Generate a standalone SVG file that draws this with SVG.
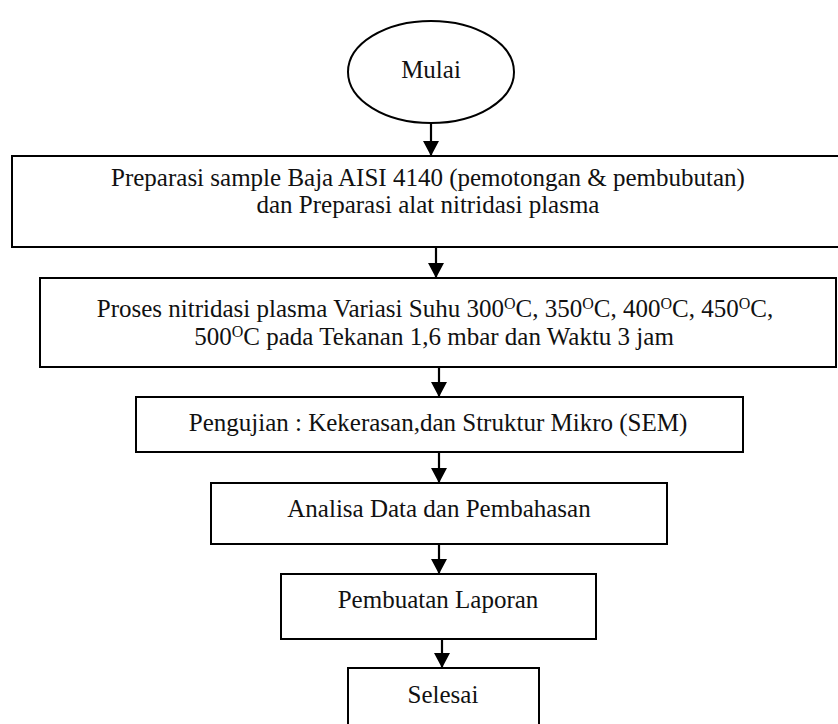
<svg xmlns="http://www.w3.org/2000/svg" width="838" height="724" viewBox="0 0 838 724">
<style>
.box{fill:#fff;stroke:#000;stroke-width:2}
.t{font-family:"Liberation Serif","Times New Roman",serif;font-size:25px;fill:#111;text-anchor:middle}
.sup{font-size:16px}
.c{stroke:#000;stroke-width:2.2;fill:none}
</style>
<defs>
<marker id="ah" markerWidth="16" markerHeight="16" viewBox="0 0 16 16" refX="15" refY="8" orient="auto" markerUnits="userSpaceOnUse">
<path d="M0,0 L15,8 L0,16 Z" fill="#000"/>
</marker>
</defs>
<rect width="838" height="724" fill="#fff"/>
<g id="connectors">
<line class="c" x1="431" y1="123" x2="431" y2="156" marker-end="url(#ah)"/>
<line class="c" x1="436" y1="248" x2="436" y2="278" marker-end="url(#ah)"/>
<line class="c" x1="439" y1="368" x2="439" y2="397" marker-end="url(#ah)"/>
<line class="c" x1="439" y1="453" x2="439" y2="483" marker-end="url(#ah)"/>
<line class="c" x1="439" y1="545" x2="439" y2="574" marker-end="url(#ah)"/>
<line class="c" x1="442" y1="639" x2="442" y2="668" marker-end="url(#ah)"/>
</g>
<g id="mulai">
<ellipse class="box" cx="431" cy="72" rx="83" ry="51"/>
<text class="t" x="431" y="78">Mulai</text>
</g>
<g id="preparasi">
<rect class="box" x="12" y="156" width="840" height="91"/>
<text class="t" x="428" y="186">Preparasi sample Baja AISI 4140 (pemotongan &amp; pembubutan)</text>
<text class="t" x="428" y="213">dan Preparasi alat nitridasi plasma</text>
</g>
<g id="proses">
<rect class="box" x="40" y="278" width="796" height="89"/>
<text class="t" x="435" y="317">Proses nitridasi plasma Variasi Suhu 300<tspan class="sup" dy="-8">O</tspan><tspan dy="8">C, 350</tspan><tspan class="sup" dy="-8">O</tspan><tspan dy="8">C, 400</tspan><tspan class="sup" dy="-8">O</tspan><tspan dy="8">C, 450</tspan><tspan class="sup" dy="-8">O</tspan><tspan dy="8">C,</tspan></text>
<text class="t" x="434" y="345">500<tspan class="sup" dy="-8">O</tspan><tspan dy="8">C pada Tekanan 1,6 mbar dan Waktu 3 jam</tspan></text>
</g>
<g id="pengujian">
<rect class="box" x="136" y="397" width="607" height="55"/>
<text class="t" x="438" y="431">Pengujian : Kekerasan,dan Struktur Mikro (SEM)</text>
</g>
<g id="analisa">
<rect class="box" x="211" y="483" width="456" height="61"/>
<text class="t" x="439" y="517">Analisa Data dan Pembahasan</text>
</g>
<g id="laporan">
<rect class="box" x="281" y="574" width="315" height="65"/>
<text class="t" x="438" y="608">Pembuatan Laporan</text>
</g>
<g id="selesai">
<rect class="box" x="348" y="668" width="191" height="70"/>
<text class="t" x="443" y="703">Selesai</text>
</g>
</svg>
